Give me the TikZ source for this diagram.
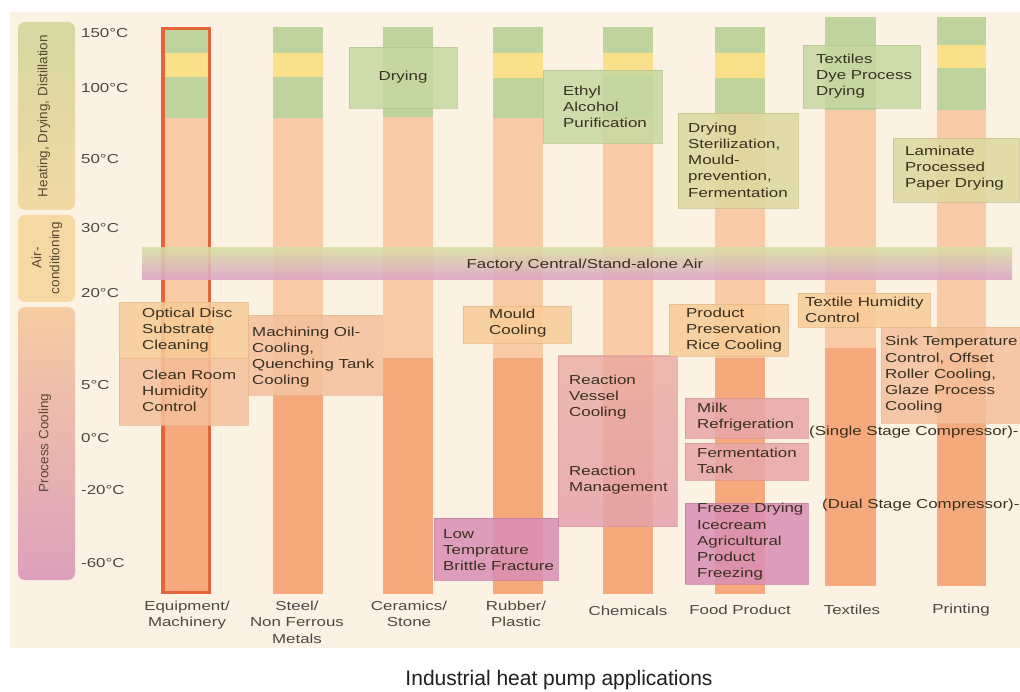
\documentclass[tikz,border=0pt]{standalone}
\usepackage{fontspec}
\setmainfont{Liberation Sans}[FakeStretch=1.3]
\newfontfamily\plainfont{Liberation Sans}
\definecolor{bgc}{HTML}{FCF2E4}
\definecolor{hdTop}{HTML}{D6D8A2}
\definecolor{hdBot}{HTML}{F2D9A4}
\definecolor{acC}{HTML}{F6D8A2}
\definecolor{pcTop}{HTML}{F6CCA2}
\definecolor{pcBot}{HTML}{DDA0BC}
\definecolor{cgreen}{HTML}{BED49C}
\definecolor{cyellow}{HTML}{FBE08C}
\definecolor{cpeach}{HTML}{F9CAA6}
\definecolor{corange}{HTML}{F5A97C}
\definecolor{cborder}{HTML}{E6643C}
\definecolor{airTop}{HTML}{D8DEA4}
\definecolor{airMid}{HTML}{F8D29A}
\definecolor{airBot}{HTML}{DCA2C8}
\definecolor{gb}{HTML}{C7D8A2}
\definecolor{gbE}{HTML}{B4C48E}
\definecolor{tb}{HTML}{DCD8A0}
\definecolor{tbE}{HTML}{C6C08A}
\definecolor{pb}{HTML}{F8CC98}
\definecolor{pbE}{HTML}{E6B888}
\definecolor{pb2}{HTML}{F4C09C}
\definecolor{pk}{HTML}{E8A6AA}
\definecolor{pkE}{HTML}{D69494}
\definecolor{mg}{HTML}{DA8EB6}
\definecolor{mgE}{HTML}{C47C9E}
\definecolor{txtc}{HTML}{3A3020}
\definecolor{tmpc}{HTML}{4C4844}
\definecolor{catc}{HTML}{5A4A34}
\begin{document}
\begin{tikzpicture}[x=1pt,y=-1pt,
  boxtxt/.style={font=\fontsize{13}{16.2}\selectfont, align=left, inner sep=0pt, text=txtc, anchor=west},
  templbl/.style={font=\fontsize{13}{16}\selectfont, inner sep=0pt, text=tmpc, anchor=west},
  collbl/.style={font=\fontsize{13}{16.2}\selectfont, align=center, inner sep=0pt, text=tmpc},
  catlbl/.style={font=\plainfont\fontsize{13.5}{18}\selectfont, align=center, inner sep=0pt, text=catc, rotate=90},
  bx/.style={fill opacity=0.86, draw opacity=0.7, line width=0.6pt}]
\useasboundingbox (0,0) rectangle (1020,692);
\fill[white] (0,0) rectangle (1020,692);
\fill[bgc] (10,12) rectangle (1020,648);
% category boxes
\shade[rounded corners=7pt, top color=hdTop, bottom color=hdBot] (18,22) rectangle (75,210);
\fill[acC, rounded corners=7pt] (18,215) rectangle (75,302);
\shade[rounded corners=7pt, top color=pcTop, bottom color=pcBot] (18,307) rectangle (75,580);
\node[catlbl] (cHeat) at (44,116) {Heating, Drying, Distillation};
\node[catlbl] (cAir) at (47,258) {Air-\\conditioning};
\node[catlbl] (cProc) at (45,443) {Process Cooling};
% temperature labels
\node[templbl] (t150) at (81,33) {150°C};
\node[templbl] (t100) at (81,88) {100°C};
\node[templbl] (t50) at (81,159) {50°C};
\node[templbl] (t30) at (81,228) {30°C};
\node[templbl] (t20) at (81,293) {20°C};
\node[templbl] (t5) at (81,385) {5°C};
\node[templbl] (t0) at (81,438) {0°C};
\node[templbl] (tm20) at (81,490) {-20°C};
\node[templbl] (tm60) at (81,563) {-60°C};
% column 1
\fill[cgreen] (161,27) rectangle (211,53);
\fill[cyellow] (161,53) rectangle (211,77);
\fill[cgreen] (161,77) rectangle (211,118);
\fill[cpeach] (161,118) rectangle (211,358);
\fill[corange] (161,358) rectangle (211,594);
\draw[cborder, line width=3.5pt] (162.75,28.75) rectangle (209.25,592.25);
% column 2
\fill[cgreen] (273,27) rectangle (323,53);
\fill[cyellow] (273,53) rectangle (323,77);
\fill[cgreen] (273,77) rectangle (323,118);
\fill[cpeach] (273,118) rectangle (323,395);
\fill[corange] (273,395) rectangle (323,594);
% column 3
\fill[cgreen] (383,27) rectangle (433,117);
\fill[cpeach] (383,117) rectangle (433,358);
\fill[corange] (383,358) rectangle (433,594);
% column 4
\fill[cgreen] (493,27) rectangle (543,53);
\fill[cyellow] (493,53) rectangle (543,78);
\fill[cgreen] (493,78) rectangle (543,118);
\fill[cpeach] (493,118) rectangle (543,358);
\fill[corange] (493,358) rectangle (543,594);
% column 5
\fill[cgreen] (603,27) rectangle (653,53);
\fill[cyellow] (603,53) rectangle (653,75);
\fill[cgreen] (603,75) rectangle (653,118);
\fill[cpeach] (603,118) rectangle (653,355);
\fill[corange] (603,355) rectangle (653,594);
% column 6
\fill[cgreen] (715,27) rectangle (765,53);
\fill[cyellow] (715,53) rectangle (765,78);
\fill[cgreen] (715,78) rectangle (765,113);
\fill[cpeach] (715,113) rectangle (765,358);
\fill[corange] (715,358) rectangle (765,594);
% column 7
\fill[cgreen] (825,17) rectangle (876,110);
\fill[cpeach] (825,110) rectangle (876,348);
\fill[corange] (825,348) rectangle (876,586);
% column 8
\fill[cgreen] (937,17) rectangle (986,45);
\fill[cyellow] (937,45) rectangle (986,68);
\fill[cgreen] (937,68) rectangle (986,110);
\fill[cpeach] (937,110) rectangle (986,358);
\fill[corange] (937,358) rectangle (986,586);
% air conditioning band
\shade[top color=airTop, middle color=airMid, bottom color=airBot, opacity=0.88] (142,248) rectangle (1012,280);
\node[boxtxt, anchor=center] (air) at (585,265) {Factory Central/Stand-alone Air};
% heating boxes
\filldraw[bx, fill=gb, draw=gbE] (349,47) rectangle (457,108);
\node[boxtxt, anchor=center] (dry) at (403,77) {Drying};
\filldraw[bx, fill=gb, draw=gbE] (543,70) rectangle (662,143);
\node[boxtxt] (ethyl) at (563,107) {Ethyl\\Alcohol\\Purification};
\filldraw[bx, fill=tb, draw=tbE] (678,113) rectangle (798,208);
\node[boxtxt] (fooddry) at (688,160) {Drying\\Sterilization,\\Mould-\\prevention,\\Fermentation};
\filldraw[bx, fill=gb, draw=gbE] (803,45) rectangle (920,108);
\node[boxtxt] (texdry) at (816,76) {Textiles\\Dye Process\\Drying};
\filldraw[bx, fill=tb, draw=tbE] (893,138) rectangle (1019,202);
\node[boxtxt] (lam) at (905,168) {Laminate\\Processed\\Paper Drying};
% cooling boxes
\filldraw[bx, fill=pb, draw=pbE] (119,302) rectangle (248,358);
\node[boxtxt] (optical) at (142,330) {Optical Disc\\Substrate\\Cleaning};
\filldraw[bx, fill=pb2, draw=pbE] (119,358) rectangle (248,425);
\node[boxtxt] (clean) at (142,391) {Clean Room\\Humidity\\Control};
\filldraw[bx, fill=pb2, draw=pbE] (248,315) rectangle (382,395);
\node[boxtxt] (mach) at (252,357) {Machining Oil-\\Cooling,\\Quenching Tank\\Cooling};
\filldraw[bx, fill=pb, draw=pbE] (463,306) rectangle (571,343);
\node[boxtxt] (mould) at (489,323) {Mould\\Cooling};
\shade[top color=pk!75!pb, bottom color=pk!80!mg, opacity=0.85] (558,356) rectangle (677,526);
\draw[pkE, draw opacity=0.6, line width=0.6pt] (558,356) rectangle (677,526);
\node[boxtxt] (rvc) at (569,397) {Reaction\\Vessel\\Cooling};
\node[boxtxt] (rman) at (569,480) {Reaction\\Management};
\filldraw[bx, fill=mg, draw=mgE] (434,518) rectangle (558,580);
\node[boxtxt] (lowt) at (443,550) {Low\\Temprature\\Brittle Fracture};
\filldraw[bx, fill=pb, draw=pbE] (669,304) rectangle (788,356);
\node[boxtxt] (prod) at (686,330) {Product\\Preservation\\Rice Cooling};
\filldraw[bx, fill=pb, draw=pbE] (798,293) rectangle (930,327);
\node[boxtxt] (texhum) at (805,310) {Textile Humidity\\Control};
\filldraw[bx, fill=pb2, draw=pbE] (881,327) rectangle (1020,423);
\node[boxtxt] (sink) at (885,375) {Sink Temperature\\Control, Offset\\Roller Cooling,\\Glaze Process\\Cooling};
\filldraw[bx, fill=pk, draw=pkE] (685,398) rectangle (808,438);
\node[boxtxt] (milk) at (697,417) {Milk\\Refrigeration};
\filldraw[bx, fill=pk, draw=pkE] (685,443) rectangle (808,480);
\node[boxtxt] (ferm) at (697,461) {Fermentation\\Tank};
\filldraw[bx, fill=mg, draw=mgE] (685,503) rectangle (808,584);
\node[boxtxt] (freeze) at (697,542) {Freeze Drying\\Icecream\\Agricultural\\Product\\Freezing};
% compressor notes
\node[boxtxt] (single) at (809,432) {(Single Stage Compressor)-};
\node[boxtxt] (dual) at (822,505) {(Dual Stage Compressor)-};
% column labels
\node[collbl, anchor=north] (l1) at (187,601) {Equipment/\\Machinery};
\node[collbl, anchor=north] (l2) at (297,601) {Steel/\\Non Ferrous\\Metals};
\node[collbl, anchor=north] (l3) at (409,601) {Ceramics/\\Stone};
\node[collbl, anchor=north] (l4) at (516,601) {Rubber/\\Plastic};
\node[collbl] (l5) at (628,611) {Chemicals};
\node[collbl] (l6) at (740,610) {Food Product};
\node[collbl] (l7) at (852,610) {Textiles};
\node[collbl] (l8) at (961,610) {Printing};
% caption
\node[font=\plainfont\fontsize{21}{24}\selectfont, text=black!88, inner sep=0pt] (cap) at (559,680) {Industrial heat pump applications};
\end{tikzpicture}
\end{document}
